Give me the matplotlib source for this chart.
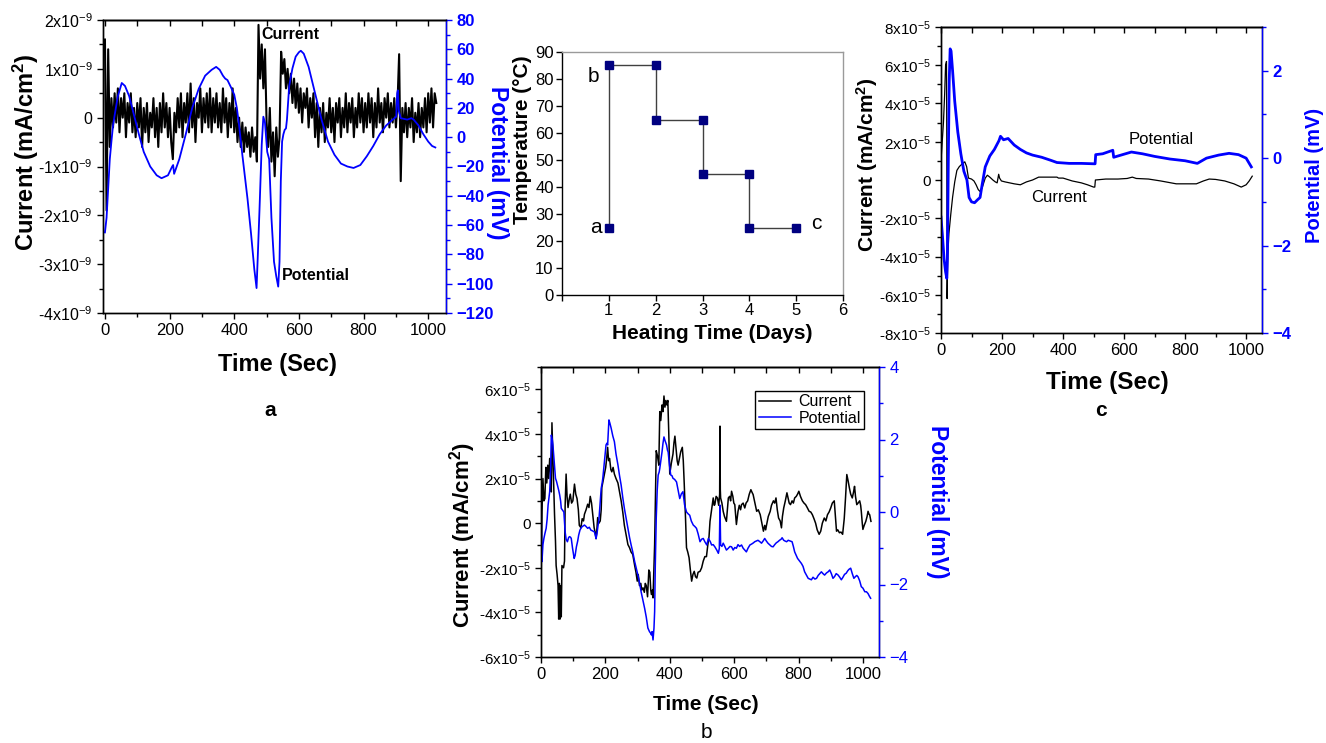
import numpy as np
import matplotlib
matplotlib.use('Agg')
import matplotlib.pyplot as plt
from matplotlib.ticker import MultipleLocator, NullFormatter

plt.rcParams['font.family'] = ['Liberation Sans', 'DejaVu Sans']
plt.rcParams['mathtext.default'] = 'regular'
plt.rcParams['axes.linewidth'] = 1.0

BLUE = '#0000FF'

# ---------------- Panel a data ----------------
SAMPLE_STEP_A = 5  # seconds between current samples
current_a = [  # units of 1e-9 mA/cm2
    1.6, -1.9, 1.4, -0.6, 0.4, -0.2, 0.5, -0.1, 0.6, -0.3,
    0.4, 0.0, 0.5, -0.4, 0.3, -0.1, 0.5, -0.3, 0.2, -0.4,
    0.3, -0.2, 0.4, -0.6, 0.2, -0.3, 0.3, -0.5, 0.1, -0.2,
    0.4, -0.4, 0.2, -0.6, 0.3, -0.3, 0.5, -0.2, 0.3, -0.4,
    0.2, -0.5, -0.85, 0.1, -0.3, 0.4, -0.2, 0.5, -0.4, 0.3,
    -0.1, 0.5, -0.3, 0.7, -0.2, 0.4, -0.5, 0.3, 0.0, 0.6,
    -0.3, 0.4, -0.1, 0.5, -0.2, 0.6, -0.3, 0.4, -0.1, 0.5,
    -0.2, 0.3, -0.3, 0.6, -0.1, 0.4, -0.4, 0.3, -0.2, 0.6,
    -0.3, 0.2, -0.5, 0.0, -0.6, -0.1, -0.7, -0.2, -0.6, -0.3,
    -0.8, -0.2, -0.7, -0.4, -0.9, 1.9, 0.8, 1.5, 0.6, 1.4,
    -0.1, -0.6, 0.2, -0.9, -0.3, -1.2, -0.2, -0.8, -0.4, 1.35,
    0.9, 1.2, 0.6, 1.0, 0.5, 0.9, 0.3, 0.8, 0.2, 0.7,
    0.1, 0.6, -0.1, 0.5, 0.2, 0.6, -0.2, 0.4, 0.0, 0.5,
    -0.4, 0.3, -0.6, 0.2, -0.3, 0.3, -0.5, 0.1, -0.2, 0.4,
    -0.3, 0.2, -0.5, 0.3, -0.1, 0.4, -0.4, 0.2, -0.2, 0.5,
    -0.3, 0.3, -0.1, 0.4, -0.4, 0.2, -0.2, 0.5, -0.1, 0.4,
    -0.3, 0.3, -0.2, 0.5, -0.1, 0.4, -0.4, 0.3, -0.2, 0.6,
    -0.1, 0.3, -0.3, 0.4, 0.0, 0.5, -0.2, 0.3, -0.1, 0.4,
    -0.2, 0.3, 1.3, -1.3, 0.2, -0.3, 0.3, -0.4, 0.2, -0.2,
    0.4, -0.5, 0.1, -0.3, 0.3, -0.4, 0.2, -0.2, 0.4, -0.3,
    0.5, -0.1, 0.6, -0.2, 0.5, 0.3,
]
potential_a = [  # (time s, potential mV)
    (0, -65), (5, -55), (10, -35), (15, -15), (20, -3), (25, 8), (30, 15),
    (40, 28), (52, 37), (62, 35), (75, 28), (90, 15), (105, 2), (120, -10),
    (140, -20), (160, -26), (175, -28), (195, -26), (208, -20), (211, -19),
    (214, -25), (230, -15), (250, 2), (270, 20), (290, 33), (310, 42),
    (330, 46), (344, 48), (355, 46), (365, 42), (372, 40), (379, 39),
    (390, 34), (400, 29), (408, 20), (415, 8), (425, -12), (441, -42),
    (452, -66), (462, -90), (469, -103), (473, -80), (478, -50), (485, -5),
    (490, 14), (495, 10), (502, -10), (508, -15), (515, -55), (523, -85),
    (530, -95), (536, -102), (540, -85), (544, -30), (548, -3), (552, 2),
    (556, 5), (560, 6), (563, 12), (570, 35), (580, 47), (590, 55),
    (600, 58), (606, 59), (615, 57), (630, 48), (650, 30), (670, 12),
    (690, -3), (710, -12), (730, -18), (750, -20), (769, -21), (790, -19),
    (810, -13), (830, -6), (850, 2), (870, 8), (890, 12), (901, 14),
    (904, 30), (906, 32), (909, 18), (915, 13), (935, 12), (948, 13),
    (955, 12), (970, 8), (985, 2), (1000, -3), (1012, -6), (1022, -7),
]
cur_a_ticks = [2, 1, 0, -1, -2, -3, -4]
cur_a_labels = ['2x10$^{-9}$', '1x10$^{-9}$', '0', '-1x10$^{-9}$', '-2x10$^{-9}$',
                '-3x10$^{-9}$', '-4x10$^{-9}$']
pot_a_ticks = [80, 60, 40, 20, 0, -20, -40, -60, -80, -100, -120]

# ---------------- Temperature panel data ----------------
heating_days = [1, 1, 2, 2, 3, 3, 4, 4, 5]
temperature_c = [25, 85, 85, 65, 65, 45, 45, 25, 25]
temp_x_ticks = [0, 1, 2, 3, 4, 5, 6]
temp_x_labels = ['', '1', '2', '3', '4', '5', '6']
temp_y_ticks = [0, 10, 20, 30, 40, 50, 60, 70, 80, 90]
stage_labels = [('b', 0.68, 81), ('a', 0.73, 25), ('c', 5.42, 26.5)]

# ---------------- Panel b data ----------------
current_b = [  # (time s, current 1e-5 mA/cm2)
    (0, -3.0), (3, 0.5), (6, 2.0), (9, 1.0), (12, 1.1), (15, 2.5), (18, 1.8),
    (21, 2.6), (24, 2.0), (27, 2.9), (30, 2.3), (32, 1.4), (34, 4.5), (37, 3.0),
    (40, 1.5), (42, 0.4), (45, -0.8), (47, -1.9), (50, -2.3), (53, -2.8),
    (55, -4.3), (57, -2.7), (59, -4.3), (61, -2.8), (63, -4.2), (65, -1.9),
    (70, -2.0), (73, -1.7), (75, 0.8), (78, 2.2), (81, 1.2), (84, 0.7),
    (88, 1.1), (91, 1.3), (95, 0.9), (99, 1.0), (104, 1.75), (108, 1.3),
    (112, 1.1), (116, 0.6), (119, -0.1), (124, -0.2), (128, 0.2), (132, 0.1),
    (135, 0.4), (140, 0.6), (145, 0.85), (149, 0.7), (153, 1.2), (157, 0.9),
    (160, 0.5), (163, 0.1), (165, -0.2), (168, -0.4), (171, -0.7), (174, -0.2),
    (176, 0.25), (180, 0.0), (184, 0.1), (187, 0.6), (189, 1.6), (193, 1.9),
    (197, 2.2), (201, 2.5), (204, 2.9), (207, 3.4), (210, 2.8), (213, 2.9),
    (217, 2.4), (220, 2.3), (224, 2.5), (228, 2.2), (233, 2.0), (239, 1.8),
    (244, 1.4), (249, 1.0), (254, 0.5), (259, -0.1), (264, -0.5), (270, -0.96),
    (275, -1.1), (280, -1.3), (285, -1.4), (291, -1.9), (295, -2.2), (299, -2.6),
    (302, -2.3), (306, -2.8), (310, -2.7), (313, -3.0), (317, -2.9), (321, -3.1),
    (324, -2.7), (327, -2.8), (331, -3.3), (335, -2.1), (338, -2.2), (341, -3.0),
    (343, -3.2), (346, -3.0), (348, -3.35), (351, -2.0), (353, -0.96), (356, 1.5),
    (358, 3.25), (362, 3.0), (366, 2.6), (369, 5.0), (372, 4.6), (376, 5.3),
    (379, 5.0), (382, 5.7), (385, 5.2), (388, 5.5), (391, 5.3), (394, 5.5),
    (397, 4.0), (400, 2.2), (405, 2.7), (410, 3.1), (413, 3.6), (416, 3.9),
    (420, 3.3), (423, 2.8), (426, 2.6), (430, 2.9), (434, 3.2), (439, 3.4),
    (442, 2.8), (445, 1.75), (449, 0.2), (452, -1.1), (456, -1.3), (460, -1.55),
    (464, -2.1), (468, -2.6), (472, -2.3), (476, -2.16), (480, -2.4), (484, -2.46),
    (488, -2.2), (494, -2.16), (499, -2.0), (504, -1.7), (509, -1.5), (514, -1.5),
    (518, -1.0), (522, -0.6), (525, 0.08), (530, 0.6), (535, 1.13), (538, 0.8),
    (540, 0.83), (544, 1.2), (548, 1.13), (552, 0.8), (555, 1.3), (556, 4.35),
    (557, 1.5), (558, 1.13), (562, 0.9), (566, 0.53), (570, 0.3), (576, 0.08),
    (579, 0.6), (582, 1.13), (586, 1.2), (589, 1.0), (592, 1.43), (596, 1.2),
    (599, 0.9), (602, 0.83), (605, 0.3), (607, -0.06), (610, 0.3), (612, 0.53),
    (616, 0.8), (620, 0.6), (623, 0.83), (628, 0.9), (633, 0.68), (637, 0.9),
    (642, 1.0), (647, 1.3), (652, 1.5), (655, 1.4), (659, 1.28), (663, 1.0),
    (667, 0.7), (670, 0.53), (675, 0.6), (681, 0.38), (686, 0.0), (691, -0.36),
    (695, -0.1), (698, -0.3), (701, -0.06), (706, 0.3), (712, 0.53), (716, 0.8),
    (722, 1.0), (726, 0.9), (730, 1.13), (734, 0.6), (738, 0.23), (743, 0.1),
    (747, -0.21), (750, 0.3), (754, 0.68), (759, 1.0), (764, 1.36), (768, 1.1),
    (771, 0.9), (775, 0.83), (780, 1.0), (784, 0.9), (788, 1.13), (793, 1.2),
    (797, 1.3), (801, 1.43), (806, 1.2), (812, 1.0), (817, 0.9), (822, 0.83),
    (827, 0.7), (833, 0.53), (838, 0.5), (843, 0.38), (848, 0.2), (853, 0.0),
    (858, -0.3), (864, -0.5), (869, -0.36), (874, 0.0), (880, 0.23), (885, 0.1),
    (890, 0.38), (895, 0.5), (900, 0.68), (905, 0.9), (911, 1.0), (914, 0.4),
    (918, -0.36), (922, -0.3), (927, -0.43), (932, -0.4), (937, -0.5), (942, 0.2),
    (946, 1.13), (950, 2.18), (954, 1.9), (958, 1.58), (962, 1.3), (967, 1.13),
    (971, 1.4), (974, 1.65), (977, 1.2), (981, 0.83), (985, 0.9), (990, 1.0),
    (993, 0.8), (995, 0.53), (998, 0.0), (1000, -0.28), (1004, -0.1), (1009, 0.08),
    (1013, 0.3), (1016, 0.53), (1019, 0.4), (1021, 0.38), (1025, 0.08),
]
potential_b = [  # (time s, potential mV)
    (0, 0.2), (3, -1.37), (6, -0.9), (9, -0.73), (12, -0.6), (16, -0.45),
    (19, -0.2), (22, 0.19), (25, 0.4), (27, 0.56), (30, 1.2), (32, 2.12),
    (35, 2.0), (37, 1.85), (41, 1.4), (45, 0.93), (48, 0.85), (51, 0.74),
    (55, 0.6), (58, 0.47), (61, 0.3), (63, 0.1), (67, 0.05), (71, 0.0),
    (73, -0.3), (75, -0.55), (78, -0.75), (82, -0.82), (86, -0.7), (89, -0.68),
    (92, -0.7), (94, -0.73), (98, -1.0), (103, -1.28), (106, -1.2), (110, -0.96),
    (114, -0.8), (117, -0.64), (121, -0.5), (124, -0.45), (128, -0.4), (132, -0.38),
    (135, -0.36), (140, -0.4), (145, -0.45), (150, -0.42), (155, -0.5), (160, -0.52),
    (166, -0.55), (169, -0.65), (171, -0.73), (174, -0.6), (176, -0.45), (180, -0.2),
    (184, 0.3), (187, 0.65), (190, 0.8), (192, 0.93), (196, 1.3), (199, 1.6),
    (202, 1.85), (205, 1.9), (207, 1.85), (209, 2.2), (211, 2.54), (214, 2.45),
    (218, 2.31), (223, 2.1), (228, 1.94), (233, 1.6), (239, 1.3), (244, 1.0),
    (249, 0.74), (254, 0.4), (259, 0.1), (264, -0.15), (270, -0.45), (275, -0.7),
    (280, -0.91), (285, -1.1), (291, -1.37), (296, -1.55), (301, -1.74), (306, -1.95),
    (311, -2.2), (317, -2.45), (322, -2.66), (327, -2.9), (332, -3.2), (337, -3.3),
    (341, -3.35), (343, -3.39), (345, -3.3), (348, -3.53), (351, -3.2), (353, -2.75),
    (355, -1.5), (358, -0.17), (361, 0.6), (364, 1.02), (367, 1.1), (369, 1.2),
    (372, 1.4), (376, 1.66), (379, 1.9), (382, 2.07), (386, 1.95), (390, 1.85),
    (393, 1.7), (395, 1.66), (399, 1.3), (403, 1.02), (407, 1.0), (410, 0.93),
    (415, 0.9), (421, 0.83), (426, 0.6), (431, 0.37), (436, 0.5), (441, 0.56),
    (446, 0.2), (452, 0.0), (457, -0.05), (462, -0.09), (467, -0.25), (473, -0.36),
    (478, -0.4), (483, -0.45), (488, -0.6), (494, -0.82), (499, -0.75), (504, -0.73),
    (509, -0.82), (515, -0.91), (520, -0.73), (526, -0.82), (530, -0.91), (535, -0.9),
    (540, -0.96), (546, -1.05), (551, -1.14), (554, -1.0), (556, 0.19), (558, -0.91),
    (562, -0.95), (566, -0.86), (571, -0.95), (576, -1.05), (582, -1.0), (587, -0.95),
    (592, -0.96), (597, -1.05), (602, -0.98), (607, -1.0), (612, -0.9), (617, -0.95),
    (623, -0.91), (628, -1.0), (633, -1.05), (638, -1.1), (643, -1.0), (649, -0.91),
    (655, -0.88), (660, -0.85), (664, -0.82), (669, -0.8), (674, -0.78), (680, -0.82),
    (685, -0.86), (690, -0.8), (695, -0.73), (700, -0.8), (705, -0.86), (710, -0.9),
    (716, -0.95), (721, -0.96), (726, -0.9), (731, -0.85), (736, -0.82), (741, -0.78),
    (746, -0.75), (749, -0.71), (754, -0.78), (758, -0.8), (763, -0.82), (768, -0.78),
    (774, -0.8), (780, -0.82), (784, -0.95), (788, -1.1), (793, -1.2), (797, -1.28),
    (803, -1.35), (809, -1.42), (814, -1.5), (819, -1.65), (825, -1.75), (830, -1.83),
    (835, -1.85), (840, -1.87), (845, -1.8), (851, -1.85), (856, -1.83), (861, -1.75),
    (866, -1.7), (871, -1.65), (876, -1.7), (881, -1.74), (887, -1.68), (892, -1.65),
    (897, -1.6), (902, -1.7), (907, -1.83), (912, -1.78), (917, -1.7), (923, -1.74),
    (928, -1.8), (933, -1.87), (938, -1.8), (943, -1.72), (948, -1.69), (953, -1.62),
    (957, -1.58), (962, -1.55), (967, -1.7), (972, -1.83), (977, -1.78), (981, -1.75),
    (985, -1.79), (990, -1.9), (995, -2.06), (1000, -2.1), (1006, -2.2), (1011, -2.2),
    (1016, -2.25), (1020, -2.32), (1024, -2.38),
]
cur_b_ticks = [6, 4, 2, 0, -2, -4, -6]
cur_b_labels = ['6x10$^{-5}$', '4x10$^{-5}$', '2x10$^{-5}$', '0', '-2x10$^{-5}$',
                '-4x10$^{-5}$', '-6x10$^{-5}$']
pot_b_ticks = [4, 2, 0, -2, -4]

# ---------------- Panel c data ----------------
current_c = [  # (time s, current 1e-5 mA/cm2)
    (0, 1.0), (4, 2.0), (8, 3.0), (12, 4.5), (15, 6.0), (18, 6.2), (19, 2.0),
    (20, -6.2), (22, -4.0), (26, -2.8), (32, -1.8), (38, -0.9), (45, -0.1),
    (52, 0.5), (60, 0.7), (70, 0.85), (78, 0.95), (84, 0.7), (90, 0.1),
    (100, 0.05), (108, -0.05), (115, -0.25), (122, -0.5), (128, -0.6),
    (135, -0.4), (145, 0.1), (152, 0.25), (160, 0.15), (170, 0.0), (178, -0.1),
    (184, -0.15), (189, 0.3), (192, 0.1), (198, -0.05), (210, -0.1), (225, -0.15),
    (240, -0.2), (260, -0.25), (280, -0.1), (300, 0.0), (320, 0.15), (350, 0.15),
    (380, 0.15), (385, 0.1), (400, 0.1), (430, -0.05), (460, -0.15), (480, -0.25),
    (500, -0.37), (504, -0.37), (506, 0.0), (540, 0.05), (580, 0.05), (610, 0.08),
    (627, 0.15), (640, 0.08), (680, 0.05), (720, -0.05), (771, -0.2), (800, -0.2),
    (837, -0.2), (860, -0.05), (879, 0.05), (900, 0.03), (930, -0.05), (960, -0.2),
    (984, -0.37), (1000, -0.25), (1010, -0.05), (1020, 0.2),
]
potential_c = [  # (time s, potential mV)
    (0, -1.35), (5, -1.8), (10, -2.3), (15, -2.6), (19, -2.75), (21, -2.3),
    (24, 0.0), (27, 1.8), (30, 2.5), (33, 2.45), (38, 2.0), (45, 1.3), (55, 0.6),
    (65, 0.1), (75, -0.3), (85, -0.5), (92, -0.9), (100, -1.0), (110, -1.02),
    (120, -0.95), (128, -0.9), (135, -0.6), (145, -0.2), (160, 0.05), (175, 0.2),
    (190, 0.4), (195, 0.5), (205, 0.42), (220, 0.45), (240, 0.3), (260, 0.2),
    (280, 0.12), (300, 0.07), (330, 0.02), (360, -0.05), (380, -0.1), (420, -0.12),
    (460, -0.12), (505, -0.13), (507, 0.08), (530, 0.1), (563, 0.18), (566, 0.02),
    (590, 0.07), (624, 0.14), (660, 0.1), (700, 0.04), (750, -0.02), (800, -0.06),
    (840, -0.12), (870, 0.0), (910, 0.07), (944, 0.11), (975, 0.08), (1000, 0.0),
    (1017, -0.2),
]
cur_c_ticks = [8, 6, 4, 2, 0, -2, -4, -6, -8]
cur_c_labels = ['8x10$^{-5}$', '6x10$^{-5}$', '4x10$^{-5}$', '2x10$^{-5}$', '0',
                '-2x10$^{-5}$', '-4x10$^{-5}$', '-6x10$^{-5}$', '-8x10$^{-5}$']
pot_c_ticks = [2, 0, -2, -4]

# ---------------- Figure ----------------
W, H = 1326, 743
fig = plt.figure(figsize=(W / 100, H / 100), dpi=100)
fig.patch.set_facecolor('white')


def rect(l, t, r, b):
    return [l / W, 1 - b / H, (r - l) / W, (b - t) / H]


def ftext(x, y, s, **kw):
    fig.text(x / W, 1 - y / H, s, ha='center', va='center', **kw)


def style_time_axis(ax, xlim, size):
    ax.set_xlim(*xlim)
    ax.xaxis.set_major_locator(MultipleLocator(200))
    ax.xaxis.set_minor_locator(MultipleLocator(100))
    ax.tick_params(axis='x', which='both', direction='out', labelsize=size)
    ax.tick_params(which='major', length=4, width=1)
    ax.tick_params(which='minor', length=3, width=1)
    top = ax.secondary_xaxis('top')
    top.xaxis.set_major_locator(MultipleLocator(100))
    top.xaxis.set_major_formatter(NullFormatter())
    top.tick_params(axis='x', which='both', direction='in', length=4, width=1)


def style_right(ax2, bold, size):
    ax2.spines['right'].set_color(BLUE)
    ax2.tick_params(axis='y', which='both', direction='out', colors=BLUE,
                    labelsize=size, width=1)
    ax2.tick_params(axis='y', which='major', length=4)
    ax2.tick_params(axis='y', which='minor', length=3)
    if bold:
        for lab in ax2.get_yticklabels():
            lab.set_fontweight('bold')


# ---- Panel a ----
axA = fig.add_axes(rect(103, 20, 446, 313))
time_a = np.arange(len(current_a)) * SAMPLE_STEP_A
axA.plot(time_a, current_a, color='black', lw=1.5)
style_time_axis(axA, (-6, 1055), 12)
axA.set_ylim(-4, 2)
axA.set_yticks(cur_a_ticks, cur_a_labels)
axA.yaxis.set_minor_locator(MultipleLocator(0.5))
axA.tick_params(axis='y', which='both', direction='out', labelsize=11.5)
axA2 = axA.twinx()
pa = np.array(potential_a, dtype=float)
axA2.plot(pa[:, 0], pa[:, 1], color=BLUE, lw=1.3)
axA2.set_ylim(-120, 80)
axA2.set_yticks(pot_a_ticks)
axA2.yaxis.set_minor_locator(MultipleLocator(10))
style_right(axA2, True, 12)
axA.text(485, 1.7, 'Current', fontsize=11.5, fontweight='bold', va='center', ha='left')
axA.text(548, -3.24, 'Potential', fontsize=11.5, fontweight='bold', va='center', ha='left')
ftext(26, 152, 'Current (mA/cm$^2$)', fontsize=17, fontweight='bold', rotation=90)
ftext(277, 365, 'Time (Sec)', fontsize=17, fontweight='bold')
ftext(498, 163, 'Potential (mV)', fontsize=16.5, fontweight='bold', rotation=270,
      color=BLUE)
ftext(270, 411, 'a', fontsize=15, fontweight='bold')

# ---- Temperature panel ----
axT = fig.add_axes(rect(562, 52, 843, 295))
axT.plot(heating_days, temperature_c, color='#404040', lw=1.0, marker='s', ms=5.5,
         mfc='#000080', mec='#000080', zorder=3)
axT.set_xlim(0, 6)
axT.set_ylim(0, 90)
axT.set_xticks(temp_x_ticks, temp_x_labels)
axT.set_yticks(temp_y_ticks)
axT.spines['top'].set_color('#9a9a9a')
axT.spines['right'].set_color('#9a9a9a')
axT.tick_params(direction='out', length=4, width=1, labelsize=12, pad=2)
for s, x, y in stage_labels:
    axT.text(x, y, s, fontsize=15, ha='center', va='center')
ftext(523, 140, 'Temperature (°C)', fontsize=15, fontweight='bold', rotation=90)
ftext(712, 333, 'Heating Time (Days)', fontsize=15, fontweight='bold')

# ---- Panel c ----
axC = fig.add_axes(rect(941, 27, 1262, 333))
cc = np.array(current_c, dtype=float)
axC.plot(cc[:, 0], cc[:, 1], color='black', lw=0.9)
style_time_axis(axC, (0, 1052), 12)
axC.set_ylim(-8, 8)
axC.set_yticks(cur_c_ticks, cur_c_labels)
axC.yaxis.set_minor_locator(MultipleLocator(1))
axC.tick_params(axis='y', which='both', direction='out', labelsize=11)
axC2 = axC.twinx()
pc = np.array(potential_c, dtype=float)
axC2.plot(pc[:, 0], pc[:, 1], color=BLUE, lw=2.0)
axC2.set_ylim(-4, 3)
axC2.set_yticks(pot_c_ticks)
axC2.yaxis.set_minor_locator(MultipleLocator(1))
style_right(axC2, True, 12)
ftext(1161, 139, 'Potential', fontsize=12)
ftext(1059, 198, 'Current', fontsize=12)
ftext(867, 165, 'Current (mA/cm$^2$)', fontsize=15, fontweight='bold', rotation=90)
ftext(1314, 175, 'Potential (mV)', fontsize=14.5, fontweight='bold', rotation=90,
      color=BLUE)
ftext(1107, 383, 'Time (Sec)', fontsize=17.5, fontweight='bold')
ftext(1101, 411, 'c', fontsize=15, fontweight='bold')

# ---- Panel b ----
axB = fig.add_axes(rect(541, 367, 879, 657))
cb = np.array(current_b, dtype=float)
lineB1, = axB.plot(cb[:, 0], cb[:, 1], color='black', lw=1.1, label='Current')
style_time_axis(axB, (0, 1050), 12)
axB.set_ylim(-6, 7)
axB.set_yticks(cur_b_ticks, cur_b_labels)
axB.yaxis.set_minor_locator(MultipleLocator(1))
axB.tick_params(axis='y', which='both', direction='out', labelsize=11)
axB2 = axB.twinx()
pb = np.array(potential_b, dtype=float)
lineB2, = axB2.plot(pb[:, 0], pb[:, 1], color=BLUE, lw=1.1, label='Potential')
axB2.set_ylim(-4, 4)
axB2.set_yticks(pot_b_ticks)
axB2.yaxis.set_minor_locator(MultipleLocator(1))
style_right(axB2, False, 12)
leg = axB2.legend(handles=[lineB1, lineB2], loc='upper right',
                  bbox_to_anchor=(0.956, 0.917), fontsize=11.5, frameon=True,
                  fancybox=False, framealpha=1, edgecolor='black',
                  handlelength=2.0, borderpad=0.2, labelspacing=0.1,
                  handletextpad=0.5, borderaxespad=0.0)
leg.get_frame().set_linewidth(1.0)
ftext(463, 535, 'Current (mA/cm$^2$)', fontsize=16, fontweight='bold', rotation=90)
ftext(937, 502, 'Potential (mV)', fontsize=16.5, fontweight='bold', rotation=270,
      color=BLUE)
ftext(706, 705, 'Time (Sec)', fontsize=15, fontweight='bold')
ftext(706, 733, 'b', fontsize=15)

fig.savefig('out.png', dpi=100, facecolor='white')
